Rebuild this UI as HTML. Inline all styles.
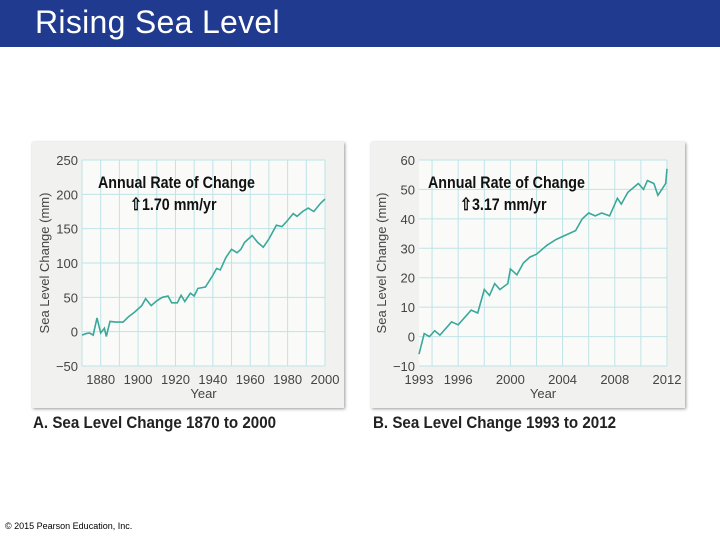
<!DOCTYPE html>
<html><head><meta charset="utf-8"><style>
body{margin:0;width:720px;height:540px;background:#fff;position:relative;overflow:hidden;font-family:"Liberation Sans",sans-serif}
#hdr{position:absolute;left:0;top:0;width:720px;height:47px;background:#1f3a8f}
#title{position:absolute;left:35px;top:4px;color:#fff;font-size:32px;font-weight:normal;letter-spacing:0.3px}
.panel{position:absolute;background:#f1f2f0;box-shadow:1px 1px 3px #999}
.cap{position:absolute;font-family:"Liberation Sans Narrow","Liberation Sans",sans-serif;font-weight:bold;font-size:17px;color:#222;transform:scaleX(0.89);transform-origin:left}
#copy{position:absolute;left:5px;top:521px;font-size:9px;color:#000}
</style></head><body>
<div id="hdr"><div id="title">Rising Sea Level</div></div>
<div class="panel" style="left:32px;top:142px;width:312px;height:266px"></div>
<div class="panel" style="left:371px;top:142px;width:314px;height:266px"></div>
<svg id="svg" width="720" height="540" style="position:absolute;left:0;top:0"></svg>
<div class="cap" style="left:33px;top:413px">A. Sea Level Change 1870 to 2000</div>
<div class="cap" style="left:373px;top:413px">B. Sea Level Change 1993 to 2012</div>
<div id="copy">© 2015 Pearson Education, Inc.</div>
<script>
const yearsA=[1870,1872,1874,1876,1878,1880,1882,1883,1885,1888,1892,1895,1898,1902,1904,1907,1910,1913,1916,1918,1921,1923,1925,1928,1930,1932,1936,1940,1942,1944,1947,1950,1953,1955,1957,1961,1964,1967,1970,1974,1977,1980,1983,1985,1988,1991,1994,1997,1998,2000];
const valuesA=[-5,-3,-2,-5,20,-2,5,-7,15,14,14,22,28,38,48,38,45,50,52,42,42,53,44,56,52,63,65,82,92,90,108,120,115,120,130,140,130,123,135,155,153,162,172,168,175,180,175,185,188,193];
const xTicksA=[1880,1900,1920,1940,1960,1980,2000];
const yTicksA=[250,200,150,100,50,0,-50];
const yearsB=[1993,1993.4,1993.8,1994.2,1994.6,1995.5,1996,1997,1997.5,1998,1998.4,1998.8,1999.2,1999.8,2000,2000.5,2001,2001.5,2002,2002.8,2003.5,2004,2005,2005.5,2006,2006.5,2007,2007.6,2008.2,2008.5,2009,2009.8,2010.2,2010.5,2011,2011.3,2011.6,2011.9,2012];
const valuesB=[-6,1,0,2,0.5,5,4,9,8,16,14,18,16,18,23,21,25,27,28,31,33,34,36,40,42,41,42,41,47,45,49,52,50,53,52,48,50,52,57];
const xTicksB=[1993,1996,2000,2004,2008,2012];
const yTicksB=[60,50,40,30,20,10,0,-10];
const svg=document.getElementById('svg');const NS='http://www.w3.org/2000/svg';
function mk(t,a,p){const e=document.createElementNS(NS,t);for(const k in a)e.setAttribute(k,a[k]);(p||svg).appendChild(e);return e;}
function chart(o){
 const sx=v=>o.x0+(v-o.xmin)/(o.xmax-o.xmin)*(o.x1-o.x0);
 const sy=v=>o.y1-(v-o.ymin)/(o.ymax-o.ymin)*(o.y1-o.y0);
 const bg=mk('rect',{x:o.x0,y:o.y0,width:o.x1-o.x0,height:o.y1-o.y0,fill:'#fafbf9'});
 
 
 for(let v=o.gx0;v<=o.xmax;v+=o.gxs){const l=mk('line',{x1:sx(v),x2:sx(v),y1:o.y0,y2:o.y1,stroke:'#bfe3e6','stroke-width':1});
  
  }
 o.yt.forEach(v=>{const l=mk('line',{x1:o.x0,x2:o.x1,y1:sy(v),y2:sy(v),stroke:'#bfe3e6','stroke-width':1});
  
  
  const t=mk('text',{x:o.x0-4,y:sy(v)+5,'text-anchor':'end','font-size':13,fill:'#444','font-family':'Liberation Sans Narrow, Liberation Sans, sans-serif'});t.textContent=v<0?'\u2212'+(-v):v;
  
  });
 o.xt.forEach(v=>{const t=mk('text',{x:sx(v),y:o.y1+18,'text-anchor':'middle','font-size':13,fill:'#444','font-family':'Liberation Sans Narrow, Liberation Sans, sans-serif'});t.textContent=v;
  
  });
 const pts=o.xs.map((x,i)=>sx(x).toFixed(1)+','+sy(o.ys[i]).toFixed(1)).join(' ');
 const pl=mk('polyline',{points:pts,fill:'none',stroke:'#3aa89a','stroke-width':1.6});
 
 
 const xl=mk('text',{x:(o.x0+o.x1)/2,y:o.y1+32,'text-anchor':'middle','font-size':13,fill:'#444'});xl.textContent='Year';
 
 
 const cy=(o.y0+o.y1)/2;
 const yl=mk('text',{x:o.x0-33,y:cy,'text-anchor':'middle','font-size':13,fill:'#444',transform:`rotate(-90 ${o.x0-33} ${cy})`});yl.textContent='Sea Level Change (mm)';
 
 
 const a1=mk('text',{x:o.ax,y:o.y0+28,'font-size':17,'font-weight':'bold',fill:'#111',transform:`translate(${o.ax} 0) scale(0.84 1) translate(${-o.ax} 0)`});a1.textContent='Annual Rate of Change';
 
 
 const a2=mk('text',{x:o.ax+32,y:o.y0+50,'font-size':17,'font-weight':'bold',fill:'#111',transform:`translate(${o.ax+32} 0) scale(0.84 1) translate(${-(o.ax+32)} 0)`});a2.textContent='\u21e7'+o.rate+' mm/yr';
 
 
}
chart({x0:82,x1:325,y0:160,y1:366,xmin:1870,xmax:2000,ymin:-50,ymax:250,gx0:1870,gxs:10,xt:xTicksA,yt:yTicksA,xs:yearsA,ys:valuesA,ax:98,rate:'1.70'});
chart({x0:419,x1:667,y0:160,y1:366,xmin:1993,xmax:2012,ymin:-10,ymax:60,gx0:1994,gxs:2,xt:xTicksB,yt:yTicksB,xs:yearsB,ys:valuesB,ax:428,rate:'3.17'});
</script>
</body></html>
